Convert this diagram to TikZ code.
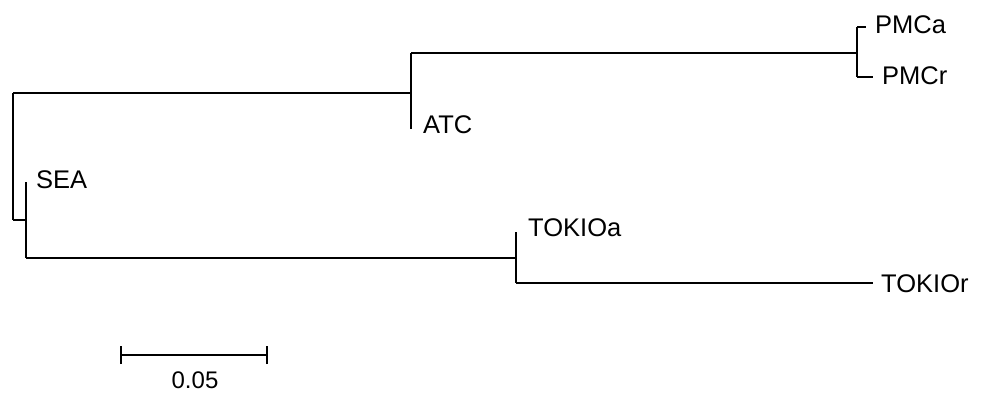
\documentclass[tikz,border=0pt]{standalone}
\usepackage{fontspec}
\setmainfont{Liberation Sans}
\begin{document}
\begin{tikzpicture}[x=1pt,y=-1pt,
  br/.style={line width=2pt},
  lbl/.style={font=\fontsize{25.5}{28}\selectfont, inner sep=0pt, anchor=west}]
\useasboundingbox (0,0) rectangle (981,396);
% internal nodes
\coordinate (rt) at (13,93);
\coordinate (rb) at (13,220);
\coordinate (n1) at (411,93);
\coordinate (n1t) at (411,53);
\coordinate (n1b) at (411,129);
\coordinate (n2) at (857,53);
\coordinate (n2t) at (857,27);
\coordinate (n2b) at (857,77);
\coordinate (pa) at (866,27);
\coordinate (pr) at (873,77);
\coordinate (s1) at (26,220);
\coordinate (s1t) at (26,182);
\coordinate (s1b) at (26,258);
\coordinate (t1) at (516,258);
\coordinate (t1t) at (516,232);
\coordinate (t1b) at (516,283);
\coordinate (tr) at (873,283);
% labels
\node[lbl] (PMCa) at (875,25) {PMCa};
\node[lbl] (PMCr) at (882,76) {PMCr};
\node[lbl] (ATC) at (423,125) {ATC};
\node[lbl] (SEA) at (36,180) {SEA};
\node[lbl] (TOKIOa) at (528,228) {TOKIOa};
\node[lbl] (TOKIOr) at (881,284) {TOKIOr};
% branches
\draw[br] (rt) -- (rb);
\draw[br] (rt) -- (n1);
\draw[br] (n1t) -- (n1b);
\draw[br] (n1t) -- (n2);
\draw[br] (n2t) -- (n2b);
\draw[br] (n2t) -- (pa);
\draw[br] (n2b) -- (pr);
\draw[br] (rb) -- (s1);
\draw[br] (s1t) -- (s1b);
\draw[br] (s1b) -- (t1);
\draw[br] (t1t) -- (t1b);
\draw[br] (t1b) -- (tr);
% scale bar
\coordinate (sa) at (121,355);
\coordinate (sb) at (267,355);
\draw[br] (sa) -- (sb);
\draw[br] ([yshift=-9]sa) -- ([yshift=9]sa);
\draw[br] ([yshift=-9]sb) -- ([yshift=9]sb);
\node[font=\fontsize{24}{26}\selectfont, inner sep=0pt] (scl) at (195,380) {0.05};
\end{tikzpicture}
\end{document}
